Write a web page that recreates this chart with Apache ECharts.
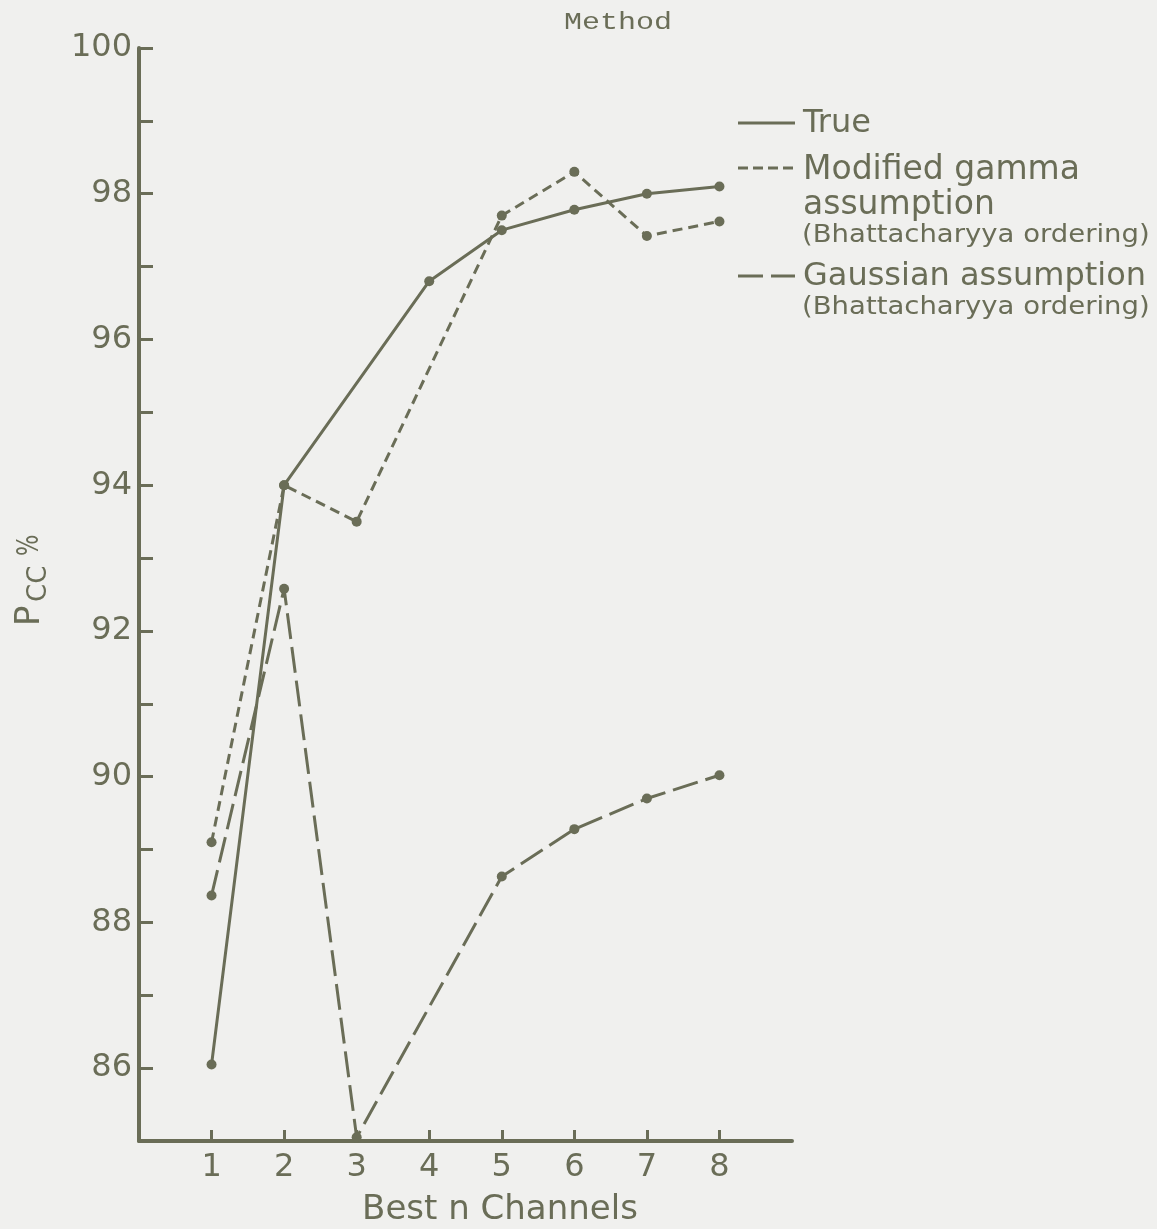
<!DOCTYPE html>
<html>
<head>
<meta charset="utf-8">
<title>Pcc vs Best n Channels</title>
<script src="https://cdn.jsdelivr.net/npm/echarts@6/dist/echarts.min.js"></script>
<style>
  html, body { margin: 0; padding: 0; background: #f0f0ee; }
  #chart { width: 1157px; height: 1229px; }
</style>
</head>
<body>
<div id="chart"></div>
<script>
// Number of best channels used
var channels = [1, 2, 3, 4, 5, 6, 7, 8];
// Probability of correct classification (%), null where no point was plotted
var trueVals     = [86.05, 94.0, null, 96.8, 97.5, 97.78, 98.0, 98.1];
var gammaVals    = [89.1, 94.0, 93.5, null, 97.7, 98.3, 97.42, 97.62];
var gaussianVals = [88.37, 92.58, 85.05, null, 88.63, 89.28, 89.7, 90.02];
// Axis tick labels
var yTickLabels = [86, 88, 90, 92, 94, 96, 98, 100];
var xTickLabels = channels;

var INK = '#6a6d57';
var FONT = '"DejaVu Sans", "Liberation Sans", sans-serif';

function pairs(vals) {
  return channels.map(function (c, i) { return [c, vals[i]]; })
                 .filter(function (d) { return d[1] !== null; });
}

function lineSeries(name, vals, dash) {
  return {
    name: name,
    type: 'line',
    data: pairs(vals),
    symbol: 'circle',
    symbolSize: 10,
    showSymbol: true,
    animation: false,
    itemStyle: { color: INK },
    lineStyle: { color: INK, width: 3, type: dash },
    z: 3
  };
}

function legendText(x, y, text, size, sx) {
  return { type: 'text', x: x, y: y, scaleX: sx || 1,
           style: { text: text, font: size + 'px ' + FONT, fill: INK,
                    textAlign: 'left', textVerticalAlign: 'middle' } };
}

var chart = echarts.init(document.getElementById('chart'), null, { renderer: 'canvas' });

chart.setOption({
  backgroundColor: '#f0f0ee',
  animation: false,
  grid: { left: 139, right: 365, top: 48, bottom: 88, containLabel: false },
  xAxis: {
    type: 'value',
    min: 0, max: 9, interval: 1,
    splitLine: { show: false },
    axisLine: { show: true, lineStyle: { color: INK, width: 4 } },
    axisTick: { show: true, inside: true, length: 11, customValues: xTickLabels,
                lineStyle: { color: INK, width: 3 } },
    axisLabel: { show: true, customValues: xTickLabels, margin: 11,
                 color: INK, fontFamily: FONT, fontSize: 32 }
  },
  yAxis: {
    type: 'value',
    min: 85, max: 100, interval: 1,
    splitLine: { show: false },
    axisLine: { show: true, lineStyle: { color: INK, width: 4 } },
    axisTick: { show: true, inside: true, length: 14, lineStyle: { color: INK, width: 3 } },
    axisLabel: {
      show: true, margin: 7, color: INK, fontFamily: FONT, fontSize: 32,
      formatter: function (v) { return yTickLabels.indexOf(v) >= 0 ? String(v) : ''; }
    }
  },
  series: [
    lineSeries('True', trueVals, 'solid'),
    lineSeries('Modified gamma assumption', gammaVals, [10, 6]),
    lineSeries('Gaussian assumption', gaussianVals, [26, 8])
  ],
  graphic: [
    // heading
    { type: 'text', x: 618, y: 23, scaleX: 1.25,
      style: { text: 'Method', font: '24px "Liberation Mono", "DejaVu Sans Mono", monospace',
               fill: INK, textAlign: 'center', textVerticalAlign: 'middle' } },
    // y axis title P_CC %
    { type: 'group', x: 30, y: 626, rotation: Math.PI / 2,
      children: [
        { type: 'text', x: 0, y: 0,
          style: { text: 'P', font: '34px ' + FONT, fill: INK, textAlign: 'left', textVerticalAlign: 'middle' } },
        { type: 'text', x: 24, y: 9,
          style: { text: 'CC', font: '26px ' + FONT, fill: INK, textAlign: 'left', textVerticalAlign: 'middle' } },
        { type: 'text', x: 70, y: 0, scaleX: 0.75,
          style: { text: '%', font: '30px ' + FONT, fill: INK, textAlign: 'left', textVerticalAlign: 'middle' } }
      ] },
    // x axis title
    { type: 'text', x: 500, y: 1210,
      style: { text: 'Best n Channels', font: '34px ' + FONT, fill: INK,
               textAlign: 'center', textVerticalAlign: 'middle' } },
    // legend samples
    { type: 'line', shape: { x1: 738, y1: 123, x2: 795, y2: 123 },
      style: { stroke: INK, lineWidth: 3 } },
    { type: 'line', shape: { x1: 738, y1: 168, x2: 795, y2: 168 },
      style: { stroke: INK, lineWidth: 3, lineDash: [10, 5] } },
    { type: 'line', shape: { x1: 738, y1: 276, x2: 795, y2: 276 },
      style: { stroke: INK, lineWidth: 3, lineDash: [25, 8] } },
    // legend texts
    legendText(803, 124, 'True', 32),
    legendText(803, 170, 'Modified gamma', 33),
    legendText(803, 205, 'assumption', 33),
    legendText(802, 235, '(Bhattacharyya ordering)', 25, 1.1),
    legendText(803, 277, 'Gaussian assumption', 32),
    legendText(802, 307, '(Bhattacharyya ordering)', 25, 1.1)
  ]
});
</script>
</body>
</html>
